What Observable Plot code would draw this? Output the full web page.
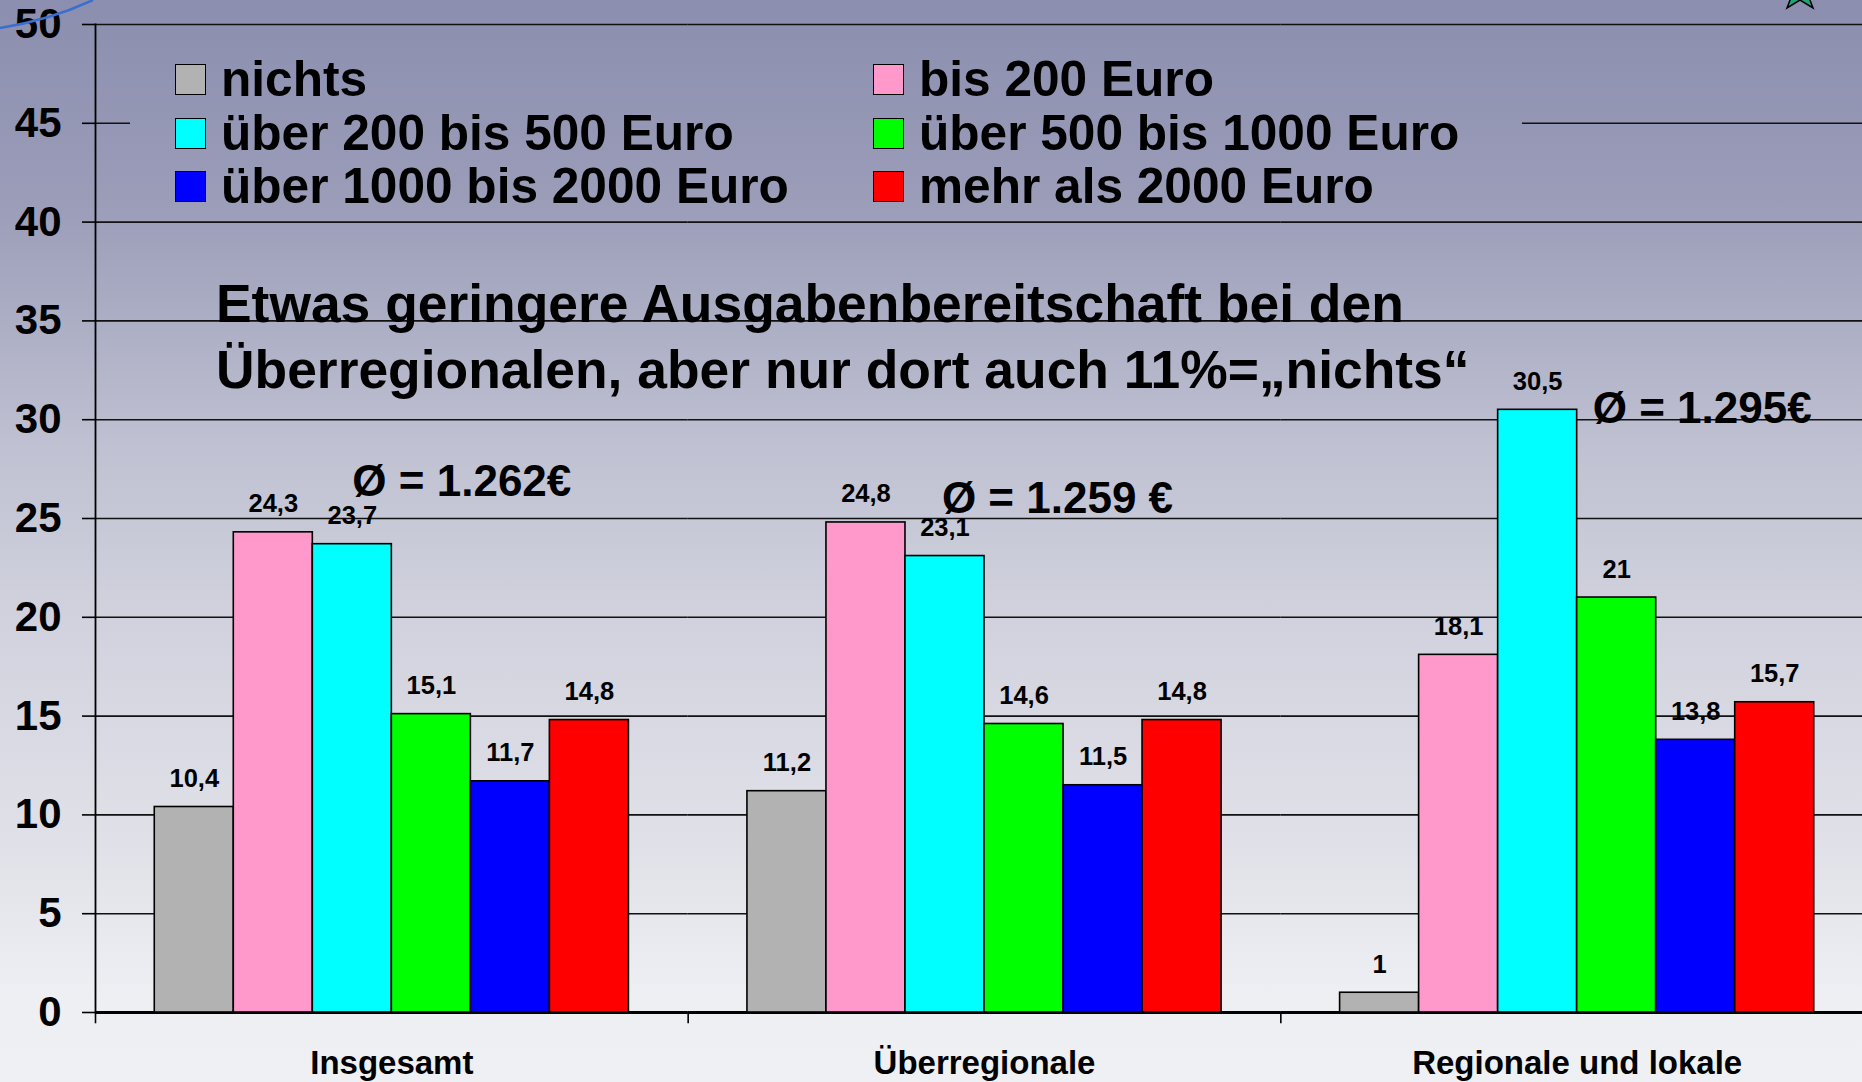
<!DOCTYPE html>
<html>
<head>
<meta charset="utf-8">
<script src="https://cdn.jsdelivr.net/npm/d3@7"></script>
<script src="https://cdn.jsdelivr.net/npm/@observablehq/plot@0.6"></script>
<style>
  html, body { margin: 0; padding: 0; width: 1862px; height: 1082px; overflow: hidden; }
  body, #legend {
    background: linear-gradient(to bottom, #8b8eae 0%, #9a9cb8 18%, #aeb0c6 31%, #bfc0d1 41%, #cfd0dc 55%, #e0e1e8 78%, #eeeff3 92%, #eff0f4 100%) fixed;
  }
  body { position: relative; font-family: "Liberation Sans", Arial, sans-serif; color: #000; }
  #chart { position: absolute; left: 0; top: 0; }
  #deco { position: absolute; left: 0; top: 0; }
  #legend {
    position: absolute; left: 130px; top: 35px; width: 1392px; height: 175px;
    box-sizing: border-box; padding: 17.75px 0 0 45px;
    display: grid; grid-template-columns: 698px auto; grid-auto-rows: 53.5px;
  }
  .item { display: flex; align-items: center; font-weight: bold; font-size: 49.6px; line-height: 49px; white-space: nowrap; }
  .sw { width: 29px; height: 29px; border: 1.5px solid #000; margin-right: 15px; flex: none; }
  #title { position: absolute; left: 216px; top: 271px; font-size: 53.4px; line-height: 66px; font-weight: bold; white-space: nowrap; }
</style>
</head>
<body>
<div id="chart"></div>
<svg id="deco" width="1862" height="40">
  <path d="M0,28 Q50,20 93,0" fill="none" stroke="#3a6fd0" stroke-width="2.5"></path>
  <path d="M1800,-28 L1805,-14 L1820,-14 L1808,-5 L1813,8 L1800,0 L1787,8 L1792,-5 L1780,-14 L1795,-14 Z" fill="#1fa57a" stroke="#000" stroke-width="1.5"></path>
</svg>
<div id="legend"></div>
<div id="title"></div>
<script>
const groups = ["Insgesamt", "Überregionale", "Regionale und lokale"];
const series = ["nichts", "bis 200 Euro", "über 200 bis 500 Euro", "über 500 bis 1000 Euro", "über 1000 bis 2000 Euro", "mehr als 2000 Euro"];
const colors = ["#b2b2b2", "#ff99cc", "#00ffff", "#00ff00", "#0000ff", "#ff0000"];
const insgesamt = [10.4, 24.3, 23.7, 15.1, 11.7, 14.8];
const ueberregionale = [11.2, 24.8, 23.1, 14.6, 11.5, 14.8];
const regionale = [1, 18.1, 30.5, 21, 13.8, 15.7];
const averages = ["Ø = 1.262€", "Ø = 1.259 €", "Ø = 1.295€"];
const yTicks = [0, 5, 10, 15, 20, 25, 30, 35, 40, 45, 50];
const titleLines = ["Etwas geringere Ausgabenbereitschaft bei den", "Überregionalen, aber nur dort auch 11%=„nichts“"];

const valuesByGroup = [insgesamt, ueberregionale, regionale];
const table = groups.flatMap((g, i) => valuesByGroup[i].map((v, j) => ({group: g, series: series[j], value: v})));
const avgTable = groups.map((g, i) => ({group: g, label: averages[i]}));
const fmt = v => String(v).replace(".", ",");

const W = 1873, H = 1082, mt = 24, mb = 70, ml = 95;
const bold = "bold";
const avgOffsets = [[70, 471], [73, 488], [125, 398]];

const plot = Plot.plot({
  width: W, height: H,
  marginTop: mt, marginBottom: mb, marginLeft: ml, marginRight: 0,
  style: {background: "transparent", maxWidth: "none", overflow: "visible", color: "#000", fontFamily: "'Liberation Sans', Arial, sans-serif"},
  fx: {domain: groups, padding: 0, round: false, axis: null},
  x: {domain: series, paddingInner: 0, paddingOuter: 0.75, round: false, axis: null},
  y: {domain: [0, 50], axis: null},
  color: {domain: series, range: colors},
  marks: [
    Plot.gridY(yTicks, {stroke: "#111", strokeOpacity: 1, strokeWidth: 1.6}),
    Plot.axisY(yTicks, {tickSize: 13, tickPadding: 21, fontSize: 42, fontWeight: bold, label: null, strokeWidth: 1.6, tickFormat: d => String(d)}),
    Plot.ruleY([0], {stroke: "#000", strokeWidth: 3}),
    Plot.frame({anchor: "left", facet: "super", stroke: "#000", strokeWidth: 1.8}),
    Plot.frame({anchor: "left", insetTop: H - mt - mb, insetBottom: -10, stroke: "#000", strokeWidth: 1.6}),
    Plot.barY(table, {fx: "group", x: "series", y: "value", fill: "series", stroke: "#000", strokeWidth: 1.6}),
    Plot.text(table, {fx: "group", x: "series", y: "value", text: d => fmt(d.value), lineAnchor: "bottom", dy: -20, fontSize: 25.5, fontWeight: bold, fill: "#000"}),
    ...avgTable.map((d, i) => Plot.text([d], {fx: "group", text: "label", frameAnchor: "top", lineAnchor: "bottom", dx: avgOffsets[i][0], dy: avgOffsets[i][1], fontSize: 44, fontWeight: bold, fill: "#000"})),
    Plot.axisFx({anchor: "bottom", tickSize: 0, tickPadding: 38, fontSize: 33, fontWeight: bold, label: null})
  ]
});
document.getElementById("chart").appendChild(plot);

const legend = document.getElementById("legend");
series.forEach((s, i) => {
  const item = document.createElement("div");
  item.className = "item";
  const sw = document.createElement("span");
  sw.className = "sw";
  sw.style.background = colors[i];
  item.appendChild(sw);
  item.appendChild(document.createTextNode(s));
  legend.appendChild(item);
});
document.getElementById("title").innerHTML = titleLines.join("<br>");
</script>
</body>
</html>
